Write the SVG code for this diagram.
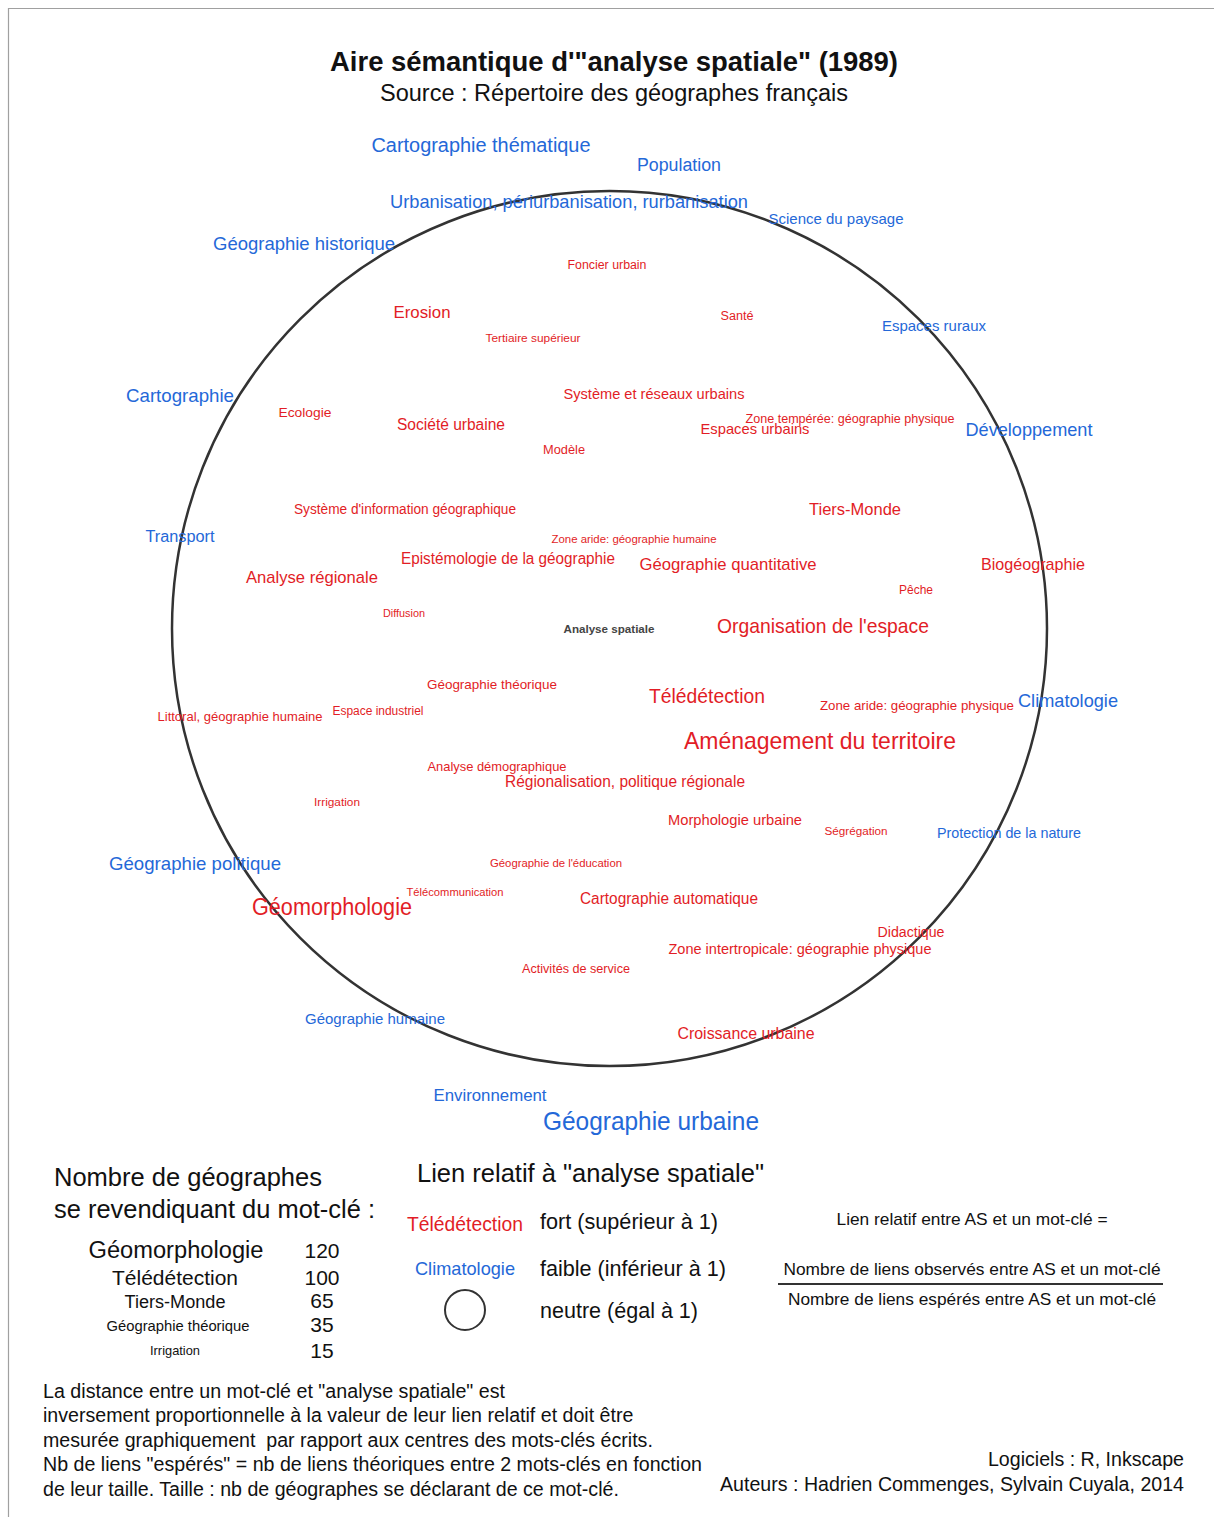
<svg xmlns="http://www.w3.org/2000/svg" width="1214" height="1517" viewBox="0 0 1214 1517">
<style>
text{font-family:"Liberation Sans",Arial,sans-serif}
.r{fill:#e21d26;text-anchor:middle}
.b{fill:#2468d8;text-anchor:middle}
.k{fill:#111}
.m{text-anchor:middle}
.e{text-anchor:end}
</style>
<rect width="1214" height="1517" fill="#fff"/>
<path d="M8.5 1517V8.5H1214" fill="none" stroke="#a0a0a0" stroke-width="1.2"/>
<g id="titre">
<text class="k m" x="614" y="71" font-size="27.5" font-weight="bold" textLength="568" lengthAdjust="spacingAndGlyphs">Aire sémantique d'"analyse spatiale" (1989)</text>
<text class="k m" x="614" y="101" font-size="23.5" textLength="468" lengthAdjust="spacingAndGlyphs">Source : Répertoire des géographes français</text>
</g>
<circle id="cercle-neutre" cx="609.5" cy="628.5" r="437.5" fill="none" stroke="#333" stroke-width="2.5"/>
<g id="mots-cles" lengthAdjust="spacingAndGlyphs">
<text class="b" x="481" y="152" font-size="20" textLength="219" lengthAdjust="spacingAndGlyphs">Cartographie thématique</text>
<text class="b" x="679" y="171" font-size="18" textLength="84" lengthAdjust="spacingAndGlyphs">Population</text>
<text class="b" x="569" y="208" font-size="19" textLength="358" lengthAdjust="spacingAndGlyphs">Urbanisation, périurbanisation, rurbanisation</text>
<text class="b" x="836" y="224" font-size="15" textLength="135" lengthAdjust="spacingAndGlyphs">Science du paysage</text>
<text class="b" x="304" y="250" font-size="19" textLength="182" lengthAdjust="spacingAndGlyphs">Géographie historique</text>
<text class="r" x="607" y="269" font-size="12.3" textLength="79" lengthAdjust="spacingAndGlyphs">Foncier urbain</text>
<text class="r" x="422" y="318" font-size="17" textLength="57" lengthAdjust="spacingAndGlyphs">Erosion</text>
<text class="r" x="737" y="320" font-size="12" textLength="33" lengthAdjust="spacingAndGlyphs">Santé</text>
<text class="r" x="533" y="342" font-size="11.8" textLength="95" lengthAdjust="spacingAndGlyphs">Tertiaire supérieur</text>
<text class="b" x="934" y="331" font-size="15" textLength="104" lengthAdjust="spacingAndGlyphs">Espaces ruraux</text>
<text class="b" x="180" y="402" font-size="19" textLength="108" lengthAdjust="spacingAndGlyphs">Cartographie</text>
<text class="r" x="654" y="399" font-size="15" textLength="181" lengthAdjust="spacingAndGlyphs">Système et réseaux urbains</text>
<text class="r" x="305" y="417" font-size="13.6" textLength="53" lengthAdjust="spacingAndGlyphs">Ecologie</text>
<text class="r" x="451" y="430" font-size="16" textLength="108" lengthAdjust="spacingAndGlyphs">Société urbaine</text>
<text class="r" x="850" y="423" font-size="12.5" textLength="209" lengthAdjust="spacingAndGlyphs">Zone tempérée: géographie physique</text>
<text class="r" x="755" y="434" font-size="15" textLength="109" lengthAdjust="spacingAndGlyphs">Espaces urbains</text>
<text class="b" x="1029" y="436" font-size="19" textLength="127" lengthAdjust="spacingAndGlyphs">Développement</text>
<text class="r" x="564" y="454" font-size="12.5" textLength="42" lengthAdjust="spacingAndGlyphs">Modèle</text>
<text class="r" x="405" y="514" font-size="14" textLength="222" lengthAdjust="spacingAndGlyphs">Système d'information géographique</text>
<text class="r" x="855" y="515" font-size="17" textLength="92" lengthAdjust="spacingAndGlyphs">Tiers-Monde</text>
<text class="b" x="180" y="542" font-size="16" textLength="69" lengthAdjust="spacingAndGlyphs">Transport</text>
<text class="r" x="634" y="543" font-size="11.4" textLength="165" lengthAdjust="spacingAndGlyphs">Zone aride: géographie humaine</text>
<text class="r" x="508" y="564" font-size="16" textLength="214" lengthAdjust="spacingAndGlyphs">Epistémologie de la géographie</text>
<text class="r" x="728" y="570" font-size="17" textLength="177" lengthAdjust="spacingAndGlyphs">Géographie quantitative</text>
<text class="r" x="1033" y="570" font-size="17" textLength="104" lengthAdjust="spacingAndGlyphs">Biogéographie</text>
<text class="r" x="312" y="583" font-size="17" textLength="132" lengthAdjust="spacingAndGlyphs">Analyse régionale</text>
<text class="r" x="916" y="594" font-size="12" textLength="34" lengthAdjust="spacingAndGlyphs">Pêche</text>
<text class="r" x="404" y="617" font-size="10.8" textLength="42" lengthAdjust="spacingAndGlyphs">Diffusion</text>
<text x="609" y="633" font-size="11.6" font-weight="bold" fill="#444" text-anchor="middle" textLength="91" lengthAdjust="spacingAndGlyphs">Analyse spatiale</text>
<text class="r" x="823" y="633" font-size="21" textLength="212" lengthAdjust="spacingAndGlyphs">Organisation de l'espace</text>
<text class="r" x="492" y="689" font-size="13.4" textLength="130" lengthAdjust="spacingAndGlyphs">Géographie théorique</text>
<text class="r" x="707" y="703" font-size="20" textLength="116" lengthAdjust="spacingAndGlyphs">Télédétection</text>
<text class="r" x="917" y="710" font-size="13" textLength="194" lengthAdjust="spacingAndGlyphs">Zone aride: géographie physique</text>
<text class="b" x="1068" y="707" font-size="19" textLength="100" lengthAdjust="spacingAndGlyphs">Climatologie</text>
<text class="r" x="240" y="721" font-size="13" textLength="165" lengthAdjust="spacingAndGlyphs">Littoral, géographie humaine</text>
<text class="r" x="378" y="715" font-size="12" textLength="91" lengthAdjust="spacingAndGlyphs">Espace industriel</text>
<text class="r" x="820" y="749" font-size="24" textLength="272" lengthAdjust="spacingAndGlyphs">Aménagement du territoire</text>
<text class="r" x="497" y="771" font-size="13" textLength="139" lengthAdjust="spacingAndGlyphs">Analyse démographique</text>
<text class="r" x="625" y="787" font-size="16" textLength="240" lengthAdjust="spacingAndGlyphs">Régionalisation, politique régionale</text>
<text class="r" x="337" y="806" font-size="11.8" textLength="46" lengthAdjust="spacingAndGlyphs">Irrigation</text>
<text class="r" x="735" y="825" font-size="15" textLength="134" lengthAdjust="spacingAndGlyphs">Morphologie urbaine</text>
<text class="r" x="856" y="835" font-size="11.7" textLength="63" lengthAdjust="spacingAndGlyphs">Ségrégation</text>
<text class="b" x="1009" y="838" font-size="14.5" textLength="144" lengthAdjust="spacingAndGlyphs">Protection de la nature</text>
<text class="b" x="195" y="870" font-size="19" textLength="172" lengthAdjust="spacingAndGlyphs">Géographie politique</text>
<text class="r" x="556" y="867" font-size="11.3" textLength="132" lengthAdjust="spacingAndGlyphs">Géographie de l'éducation</text>
<text class="r" x="455" y="896" font-size="11.2" textLength="97" lengthAdjust="spacingAndGlyphs">Télécommunication</text>
<text class="r" x="332" y="915" font-size="23" textLength="160" lengthAdjust="spacingAndGlyphs">Géomorphologie</text>
<text class="r" x="669" y="904" font-size="16" textLength="178" lengthAdjust="spacingAndGlyphs">Cartographie automatique</text>
<text class="r" x="911" y="937" font-size="14" textLength="67" lengthAdjust="spacingAndGlyphs">Didactique</text>
<text class="r" x="800" y="954" font-size="15" textLength="263" lengthAdjust="spacingAndGlyphs">Zone intertropicale: géographie physique</text>
<text class="r" x="576" y="973" font-size="12.5" textLength="108" lengthAdjust="spacingAndGlyphs">Activités de service</text>
<text class="b" x="375" y="1024" font-size="15" textLength="140" lengthAdjust="spacingAndGlyphs">Géographie humaine</text>
<text class="r" x="746" y="1039" font-size="16" textLength="137" lengthAdjust="spacingAndGlyphs">Croissance urbaine</text>
<text class="b" x="490" y="1101" font-size="17" textLength="113" lengthAdjust="spacingAndGlyphs">Environnement</text>
<text class="b" x="651" y="1130" font-size="26" textLength="216" lengthAdjust="spacingAndGlyphs">Géographie urbaine</text>
</g>
<g id="legende-taille">
<text class="k" x="54" y="1186" font-size="25.5">Nombre de géographes</text>
<text class="k" x="54" y="1218" font-size="25.5" textLength="321" lengthAdjust="spacingAndGlyphs">se revendiquant du mot-clé :</text>
<text class="k m" x="176" y="1258" font-size="23.5" textLength="175" lengthAdjust="spacingAndGlyphs">Géomorphologie</text>
<text class="k m" x="175" y="1285" font-size="21" textLength="126" lengthAdjust="spacingAndGlyphs">Télédétection</text>
<text class="k m" x="175" y="1308" font-size="18" textLength="101" lengthAdjust="spacingAndGlyphs">Tiers-Monde</text>
<text class="k m" x="178" y="1331" font-size="14.7" textLength="143" lengthAdjust="spacingAndGlyphs">Géographie théorique</text>
<text class="k m" x="175" y="1355" font-size="12.8" textLength="50" lengthAdjust="spacingAndGlyphs">Irrigation</text>
<text class="k m" x="322" y="1258" font-size="21">120</text>
<text class="k m" x="322" y="1285" font-size="21">100</text>
<text class="k m" x="322" y="1308" font-size="21">65</text>
<text class="k m" x="322" y="1332" font-size="21">35</text>
<text class="k m" x="322" y="1358" font-size="21">15</text>
</g>
<g id="legende-lien">
<text class="k" x="417" y="1182" font-size="25.5" textLength="347" lengthAdjust="spacingAndGlyphs">Lien relatif à "analyse spatiale"</text>
<text class="r" x="465" y="1231" font-size="20" textLength="116" lengthAdjust="spacingAndGlyphs">Télédétection</text>
<text class="k" x="540" y="1229" font-size="21.6" textLength="178" lengthAdjust="spacingAndGlyphs">fort (supérieur à 1)</text>
<text class="b" x="465" y="1275" font-size="19" textLength="100" lengthAdjust="spacingAndGlyphs">Climatologie</text>
<text class="k" x="540" y="1276" font-size="21.6" textLength="186" lengthAdjust="spacingAndGlyphs">faible (inférieur à 1)</text>
<circle cx="465" cy="1310" r="20" fill="none" stroke="#333" stroke-width="2"/>
<text class="k" x="540" y="1318" font-size="21.6" textLength="158" lengthAdjust="spacingAndGlyphs">neutre (égal à 1)</text>
</g>
<g id="formule">
<text class="k m" x="972" y="1225" font-size="17" textLength="271" lengthAdjust="spacingAndGlyphs">Lien relatif entre AS et un mot-clé =</text>
<text class="k m" x="972" y="1275" font-size="17" textLength="377" lengthAdjust="spacingAndGlyphs">Nombre de liens observés entre AS et un mot-clé</text>
<line x1="778" y1="1284" x2="1163" y2="1284" stroke="#333" stroke-width="2"/>
<text class="k m" x="972" y="1305" font-size="17" textLength="368" lengthAdjust="spacingAndGlyphs">Nombre de liens espérés entre AS et un mot-clé</text>
</g>
<g id="notes" font-size="19.6">
<text class="k" x="43" y="1398" textLength="462" lengthAdjust="spacingAndGlyphs">La distance entre un mot-clé et "analyse spatiale" est</text>
<text class="k" x="43" y="1422">inversement proportionnelle à la valeur de leur lien relatif et doit être</text>
<text class="k" x="43" y="1447" xml:space="preserve">mesurée graphiquement  par rapport aux centres des mots-clés écrits.</text>
<text class="k" x="43" y="1471" textLength="659" lengthAdjust="spacingAndGlyphs">Nb de liens "espérés" = nb de liens théoriques entre 2 mots-clés en fonction</text>
<text class="k" x="43" y="1496">de leur taille. Taille : nb de géographes se déclarant de ce mot-clé.</text>
<text class="k e" x="1184" y="1466">Logiciels : R, Inkscape</text>
<text class="k e" x="1184" y="1491">Auteurs : Hadrien Commenges, Sylvain Cuyala, 2014</text>
</g>
</svg>
